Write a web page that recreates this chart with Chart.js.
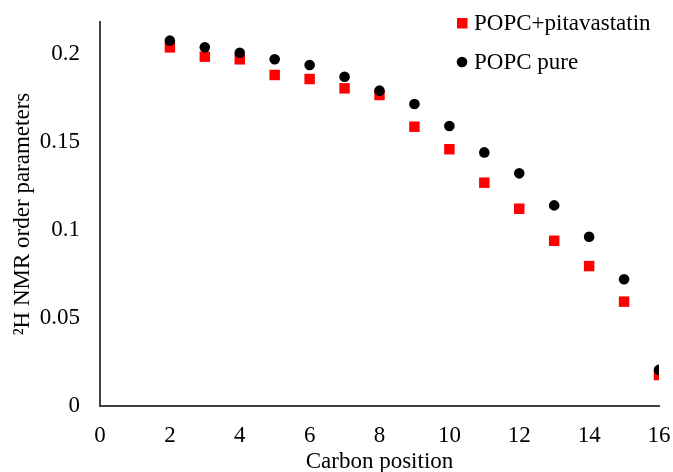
<!DOCTYPE html>
<html>
<head>
<meta charset="utf-8">
<script src="https://cdn.jsdelivr.net/npm/chart.js@4.4.1/dist/chart.umd.min.js"></script>
<style>
html,body{margin:0;padding:0;background:#fff;}
canvas{display:block;}
</style>
</head>
<body>
<canvas id="c" width="673" height="472"></canvas>
<script>
const carbonPositions = [2,3,4,5,6,7,8,9,10,11,12,13,14,15,16];
const pitavastatin = [0.2038,0.1985,0.1970,0.1881,0.1858,0.1805,0.1767,0.1587,0.1459,0.1269,0.1121,0.0939,0.0795,0.0593,0.0176];
const pure = [0.2076,0.2038,0.2007,0.1970,0.1938,0.1871,0.1792,0.1716,0.1591,0.1441,0.1322,0.1140,0.0962,0.0720,0.0205];
const xTicks = [0,2,4,6,8,10,12,14,16];
const yTicks = [0,0.05,0.1,0.15,0.2];
const seriesNames = ['POPC+pitavastatin','POPC pure'];
const xTitle = 'Carbon position';
const yTitle = '\u00B2H NMR order parameters';

const FONT = "'Liberation Serif', 'Times New Roman', serif";
const FS = 23;

const legendPlugin = {
  id: 'insideLegend',
  afterDraw(chart) {
    const ctx = chart.ctx;
    ctx.save();
    ctx.font = FS + 'px ' + FONT;
    ctx.textBaseline = 'middle';
    ctx.textAlign = 'left';
    ctx.fillStyle = chart.data.datasets[0].backgroundColor;
    ctx.fillRect(457, 18, 10.5, 10.5);
    ctx.fillStyle = '#000';
    ctx.fillText(chart.data.datasets[0].label, 474, 24);
    ctx.fillStyle = chart.data.datasets[1].backgroundColor;
    ctx.beginPath();
    ctx.arc(462, 62, 5.3, 0, Math.PI*2);
    ctx.fill();
    ctx.fillStyle = '#000';
    ctx.fillText(chart.data.datasets[1].label, 474, 63);
    ctx.restore();
  }
};

new Chart(document.getElementById('c'), {
  type: 'scatter',
  data: {
    datasets: [
      {
        label: seriesNames[0],
        data: carbonPositions.map((x,i)=>({x:x, y:pitavastatin[i]})),
        pointStyle: 'rect',
        pointRadius: 7.4,
        pointHoverRadius: 7.4,
        backgroundColor: '#FF0000',
        borderColor: '#FF0000',
        borderWidth: 0,
        order: 2
      },
      {
        label: seriesNames[1],
        data: carbonPositions.map((x,i)=>({x:x, y:pure[i]})),
        pointStyle: 'circle',
        pointRadius: 5.3,
        pointHoverRadius: 5.3,
        backgroundColor: '#000000',
        borderColor: '#000000',
        borderWidth: 0,
        order: 1
      }
    ]
  },
  options: {
    responsive: false,
    animation: false,
    layout: { padding: { top: 22, right: 14, left: 0, bottom: 0 } },
    plugins: { legend: { display: false }, tooltip: { enabled: false } },
    scales: {
      x: {
        type: 'linear',
        min: 0, max: 16,
        afterBuildTicks: s => { s.ticks = xTicks.map(v => ({value: v})); },
        afterFit: s => { s.height = 66; s.paddingLeft = 0; s.paddingRight = 0; },
        grid: { display: false, drawTicks: false },
        border: { display: true, color: '#404040', width: 2 },
        ticks: { padding: 18, color: '#000', font: { family: FONT, size: FS, lineHeight: 1 }, maxRotation: 0 },
        title: { display: true, text: xTitle, color: '#000', font: { family: FONT, size: FS, lineHeight: 1 }, padding: { top: 0, bottom: -1.5 } }
      },
      y: {
        type: 'linear',
        min: 0, max: 0.2182,
        afterBuildTicks: s => { s.ticks = yTicks.map(v => ({value: v})); },
        afterFit: s => { s.width = 100; s.paddingTop = 0; s.paddingBottom = 0; },
        grid: { display: false, drawTicks: false },
        border: { display: true, color: '#404040', width: 2 },
        ticks: { padding: 20, color: '#000', font: { family: FONT, size: FS, lineHeight: 1 }, callback: v => String(v) },
        title: { display: true, text: yTitle, color: '#000', font: { family: FONT, size: FS, lineHeight: 1 }, padding: { top: 11, bottom: 0 } }
      }
    }
  },
  plugins: [legendPlugin]
});
</script>
</body>
</html>
